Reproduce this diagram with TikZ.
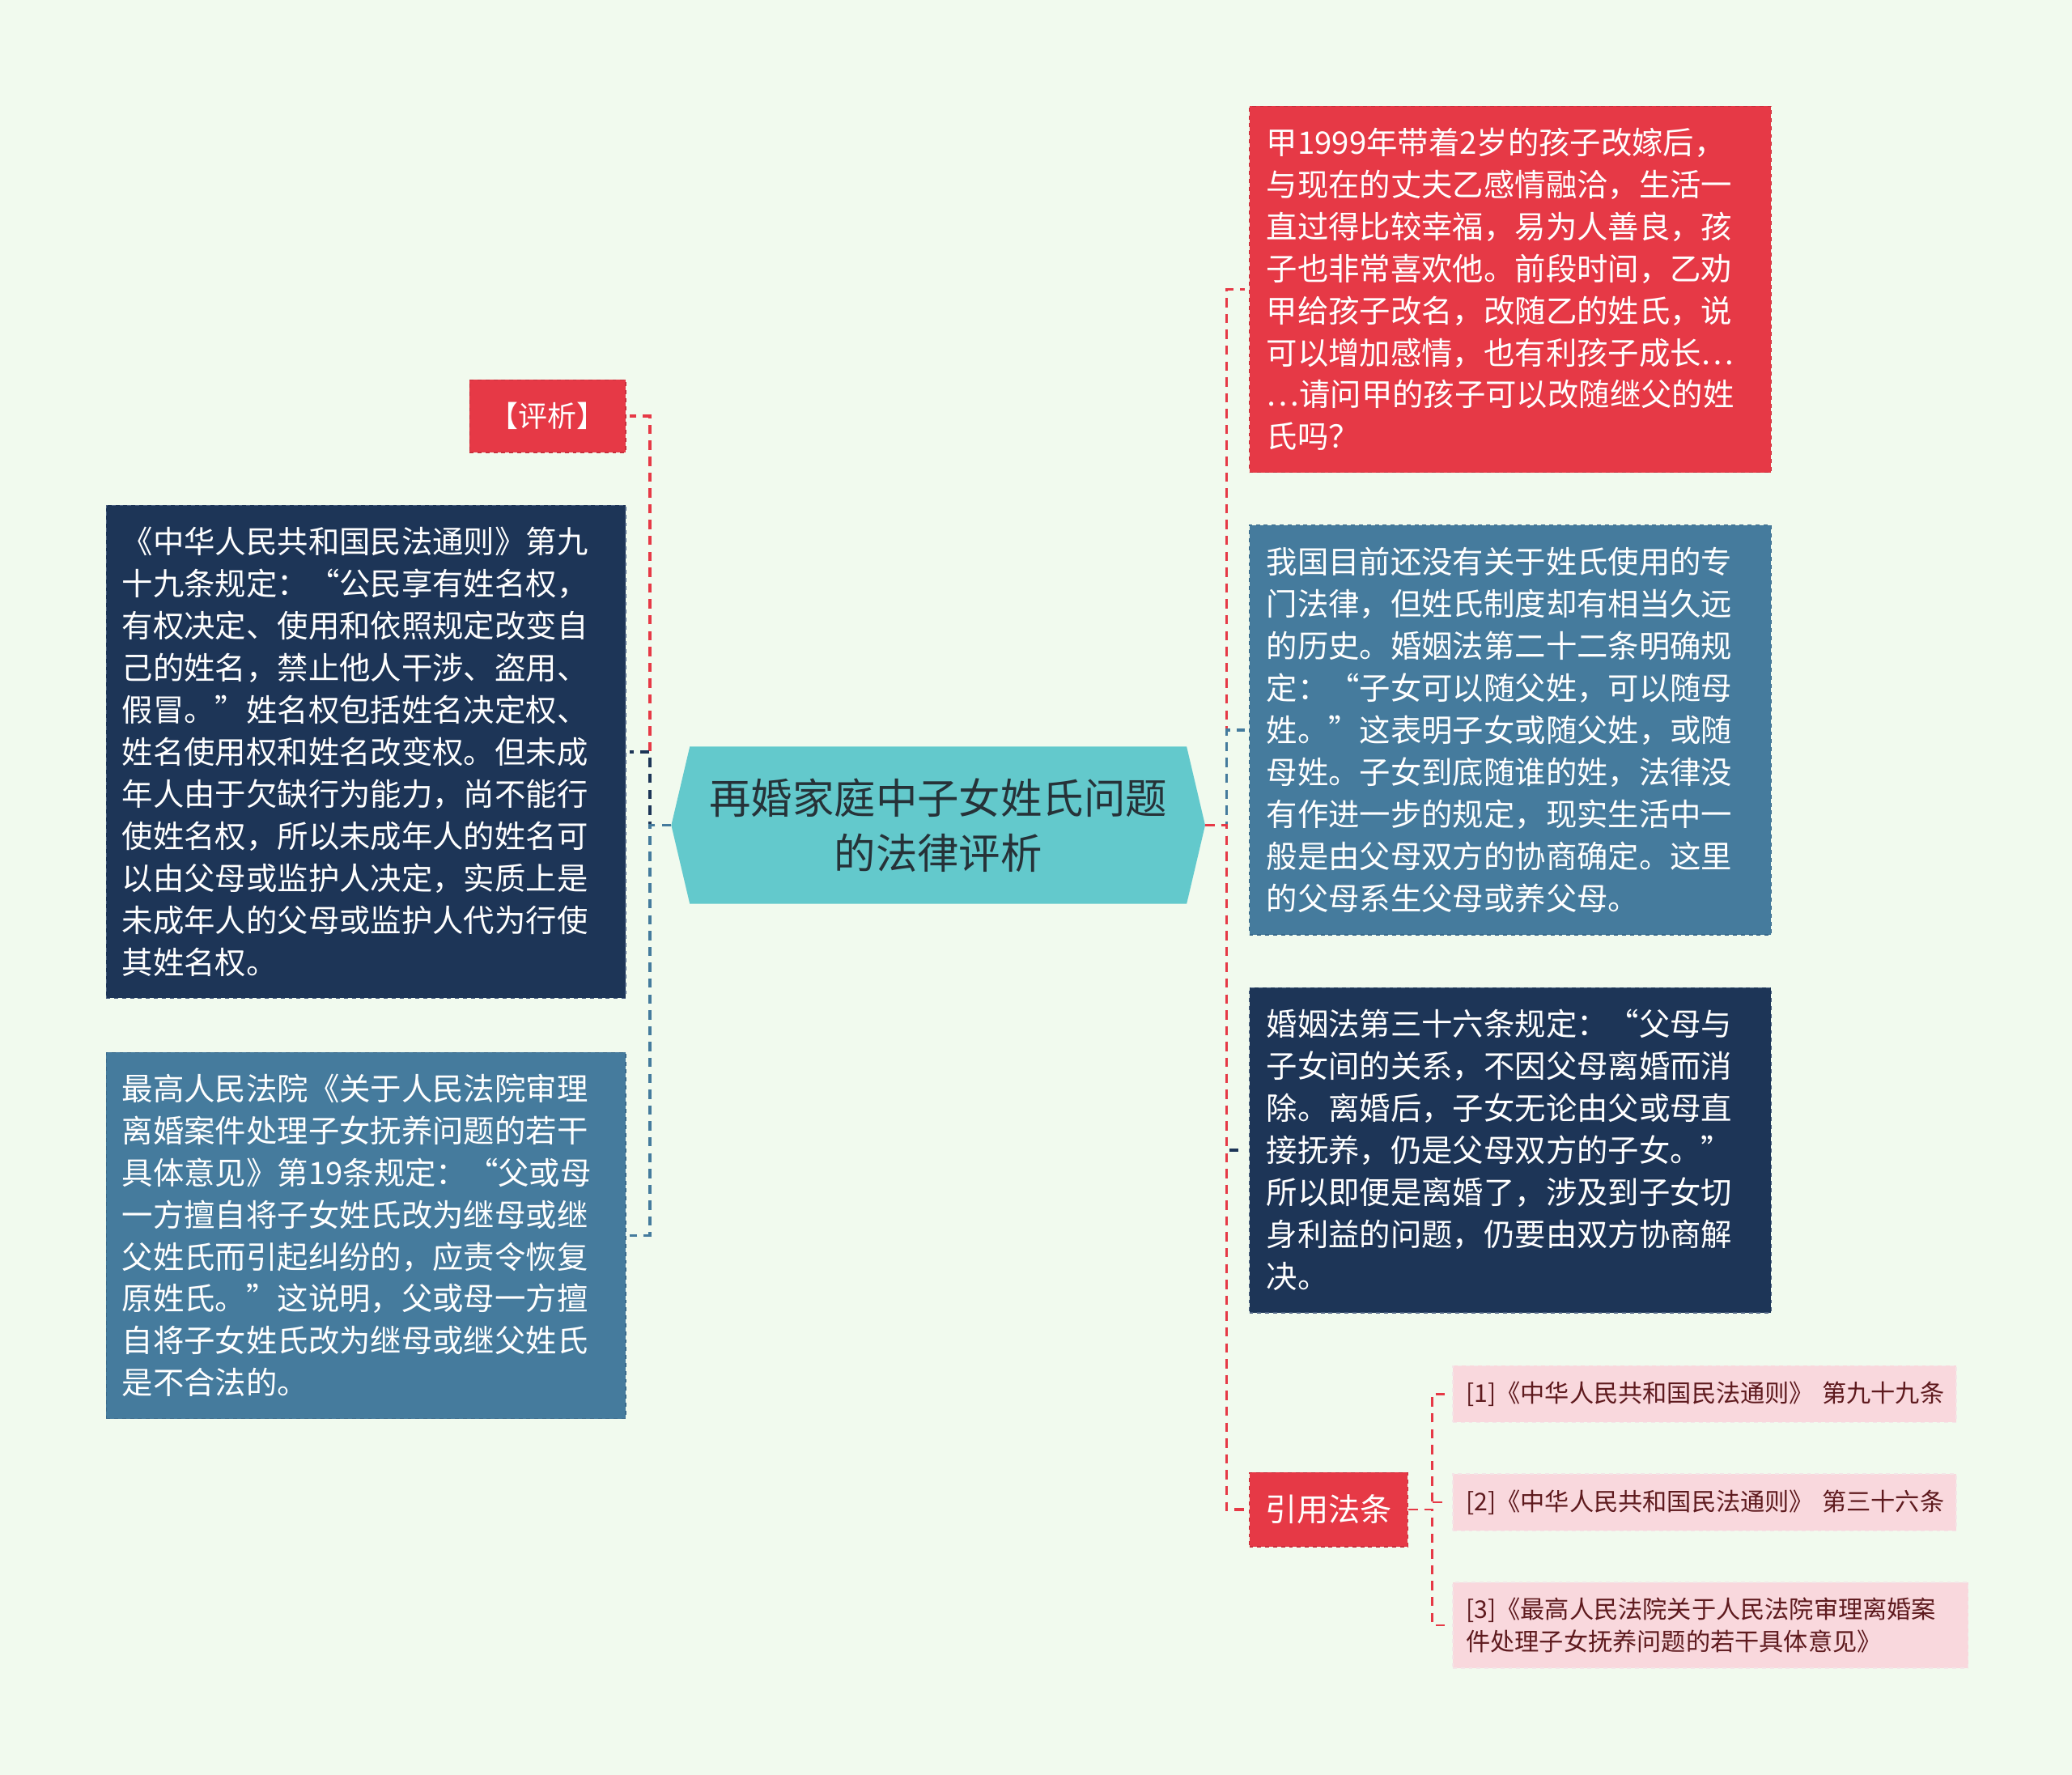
\documentclass[tikz,border=0pt]{standalone}
\usepackage{fontspec}
\setmainfont{Noto Sans CJK SC}
\usetikzlibrary{calc}
\definecolor{bgc}{HTML}{F1FAEE}
\definecolor{redc}{HTML}{E63946}
\definecolor{redb}{HTML}{C92F3C}
\definecolor{navyc}{HTML}{1D3557}
\definecolor{navyb}{HTML}{4E6383}
\definecolor{bluec}{HTML}{457B9D}
\definecolor{blueb}{HTML}{3A6A8C}
\definecolor{tealc}{HTML}{63C9CC}
\definecolor{pinkc}{HTML}{F9D8DD}
\definecolor{pinkb}{HTML}{F3E6E8}
\definecolor{pinkt}{HTML}{5E1A1E}
\definecolor{titlec}{HTML}{263238}
\tikzset{
  box/.style={anchor=north west, inner xsep=12pt, inner ysep=0pt, align=left,
    text=white, font=\fontsize{23.5}{31.8}\selectfont, dashed, line width=0.8pt},
  smallbox/.style={anchor=north west, inner sep=0pt, align=center, text=white,
    dashed, line width=0.8pt},
  pinkbox/.style={anchor=north west, inner xsep=10pt, inner ysep=0pt, align=left,
    fill=pinkc, draw=pinkb, dashed, line width=0.8pt, text=pinkt,
    font=\fontsize{18.5}{24}\selectfont},
  conn/.style={line width=2.3pt, dash pattern=on 7pt off 5pt},
  thinconn/.style={line width=1.6pt, dash pattern=on 7pt off 5pt, draw=redc},
}
\begin{document}
\begin{tikzpicture}[x=1pt,y=-1pt]
\useasboundingbox (0,0) rectangle (1568,1343);
\fill[bgc] (0,0) rectangle (1568,1343);

% central topic
\fill[tealc] (508,624.5) -- (522,565) -- (898,565) -- (912,624.5) -- (898,684) -- (522,684) -- cycle;
\node[minimum width=404pt, minimum height=119pt, inner sep=0pt, align=center,
  text=titlec, font=\fontsize{31.5}{42}\selectfont] (root) at (710,624.5)
  {再婚家庭中子女姓氏问题\\的法律评析};

% left side
\node[smallbox, fill=redc, draw=redb, minimum width=118pt, minimum height=55pt,
  font=\fontsize{22}{26}\selectfont] (pingxi) at (355,287) {【评析】};
\node[box, fill=navyc, draw=navyb, text width=369pt, minimum height=373pt] (law1) at (80,382)
{《中华人民共和国民法通则》第九\\
十九条规定：“公民享有姓名权，\\
有权决定、使用和依照规定改变自\\
己的姓名，禁止他人干涉、盗用、\\
假冒。”姓名权包括姓名决定权、\\
姓名使用权和姓名改变权。但未成\\
年人由于欠缺行为能力，尚不能行\\
使姓名权，所以未成年人的姓名可\\
以由父母或监护人决定，实质上是\\
未成年人的父母或监护人代为行使\\
其姓名权。};
\node[box, fill=bluec, draw=blueb, text width=369pt, minimum height=277pt] (law2) at (80,796)
{最高人民法院《关于人民法院审理\\
离婚案件处理子女抚养问题的若干\\
具体意见》第19条规定：“父或母\\
一方擅自将子女姓氏改为继母或继\\
父姓氏而引起纠纷的，应责令恢复\\
原姓氏。”这说明，父或母一方擅\\
自将子女姓氏改为继母或继父姓氏\\
是不合法的。};

% right side
\node[box, fill=redc, draw=redb, inner xsep=13pt, text width=369pt, minimum height=277pt] (case) at (945,80)
{甲1999年带着2岁的孩子改嫁后，\\
与现在的丈夫乙感情融洽，生活一\\
直过得比较幸福，易为人善良，孩\\
子也非常喜欢他。前段时间，乙劝\\
甲给孩子改名，改随乙的姓氏，说\\
可以增加感情，也有利孩子成长…\\
…请问甲的孩子可以改随继父的姓\\
氏吗？};
\node[box, fill=bluec, draw=blueb, inner xsep=13pt, text width=369pt, minimum height=310pt] (hist) at (945,397)
{我国目前还没有关于姓氏使用的专\\
门法律，但姓氏制度却有相当久远\\
的历史。婚姻法第二十二条明确规\\
定：“子女可以随父姓，可以随母\\
姓。”这表明子女或随父姓，或随\\
母姓。子女到底随谁的姓，法律没\\
有作进一步的规定，现实生活中一\\
般是由父母双方的协商确定。这里\\
的父母系生父母或养父母。};
\node[box, fill=navyc, draw=navyb, inner xsep=13pt, text width=369pt, minimum height=246pt] (marr) at (945,747)
{婚姻法第三十六条规定：“父母与\\
子女间的关系，不因父母离婚而消\\
除。离婚后，子女无论由父或母直\\
接抚养，仍是父母双方的子女。”\\
所以即便是离婚了，涉及到子女切\\
身利益的问题，仍要由双方协商解\\
决。};
\node[smallbox, fill=redc, draw=redb, minimum width=120pt, minimum height=56pt,
  font=\fontsize{24}{28}\selectfont] (cite) at (945,1114) {引用法条};

\node[pinkbox, text width=361pt, minimum height=43pt] (c1) at (1099,1033)
  {\mbox{[1]《中华人民共和国民法通则》~第九十九条}};
\node[pinkbox, text width=361pt, minimum height=43pt] (c2) at (1099,1115)
  {\mbox{[2]《中华人民共和国民法通则》~第三十六条}};
\node[pinkbox, text width=370pt, minimum height=65pt] (c3) at (1099,1197)
  {[3]《最高人民法院关于人民法院审理离婚案\\件处理子女抚养问题的若干具体意见》};

% connectors left
\draw[conn, draw=redc] (root.west) -- ++(-16,0) |- ([xshift=3pt]pingxi.east);
\draw[conn, draw=navyc] (root.west) -- ++(-16,0) |- ([xshift=3pt]law1.east);
\draw[conn, draw=bluec] (root.west) -- ++(-16,0) |- ([xshift=3pt]law2.east);
% connectors right
\draw[conn, draw=redc] (root.east) -- ++(16,0) |- ([xshift=-3pt]case.west);
\draw[conn, draw=bluec] (root.east) -- ++(16,0) |- ([xshift=-3pt]hist.west);
\draw[conn, draw=navyc] (root.east) -- ++(16,0) |- ([xshift=-3pt]marr.west);
\draw[conn, draw=redc] (root.east) -- ++(16,0) |- ([xshift=-3pt]cite.west);
% cited laws
\draw[thinconn] (cite.east) -- ++(18,0) |- ([xshift=-5pt]c1.west);
\draw[thinconn] (cite.east) -- ++(18,0) |- ([xshift=-5pt]c2.west);
\draw[thinconn] (cite.east) -- ++(18,0) |- ([xshift=-5pt]c3.west);
\end{tikzpicture}
\end{document}
